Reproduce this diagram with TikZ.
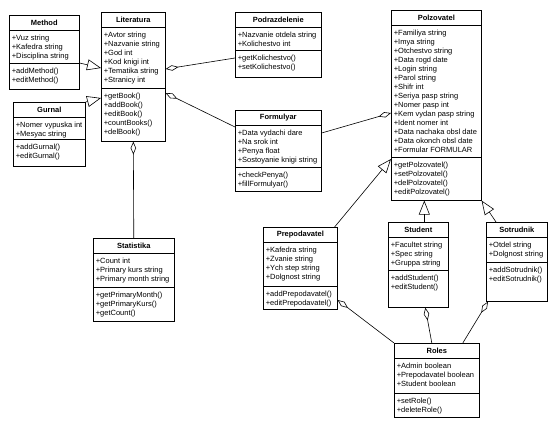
\documentclass[tikz,border=0pt]{standalone}
\usepackage{fontspec}
\setmainfont{Liberation Sans}
\usetikzlibrary{arrows.meta}

% #1 name, #2 x, #3 y, #4 width, #5 height, #6 attribute part height,
% #7 title, #8 attributes, #9 operations
\newcommand{\umlclass}[9]{%
  \node[classbox, minimum width=#4pt, minimum height=#5pt] (#1) at (#2,#3) {};
  \node[classtitle] (#1-name) at ([yshift=-7.5pt]#1.north) {#7};
  \draw ([yshift=-15pt]#1.north west) -- ([yshift=-15pt]#1.north east);
  \node[members] (#1-attr) at ([yshift=-15pt]#1.north west) {#8};
  \draw ([yshift=-15pt-#6pt]#1.north west) -- ([yshift=-15pt-#6pt]#1.north east);
  \node[members] (#1-ops) at ([yshift=-15pt-#6pt]#1.north west) {#9};
}

\begin{document}
\begin{tikzpicture}[x=1pt,y=-1pt,line width=0.6pt,
    classbox/.style={draw, anchor=north west, inner sep=0pt},
    classtitle/.style={font=\fontsize{7.5}{9}\selectfont\bfseries, inner sep=0pt},
    members/.style={anchor=north west, align=left, inner xsep=2.5pt, inner ysep=4.3pt,
      font=\fontsize{7.5}{9}\selectfont},
    inherit/.style={-{Triangle[open, length=14pt, width=11pt]}},
    aggr/.style={{Diamond[open, length=13pt, width=5.5pt]}-}]
  \useasboundingbox (0,0) rectangle (555,442);

  \umlclass{meth}{9}{15}{70}{74}{33}{Method}
    {+Vuz string\\+Kafedra string\\+Disciplina string}
    {+addMethod()\\+editMethod()}
  \umlclass{lit}{101}{12}{64}{129}{61}{Literatura}
    {+Avtor string\\+Nazvanie string\\+God int\\+Kod knigi int\\+Tematika string\\+Stranicy int}
    {+getBook()\\+addBook()\\+editBook()\\+countBooks()\\+delBook()}
  \umlclass{gurn}{13}{102}{72}{64}{22}{Gurnal}
    {+Nomer vypuska int\\+Mesyac string}
    {+addGurnal()\\+editGurnal()}
  \umlclass{stat}{93}{238}{81}{83}{34}{Statistika}
    {+Count int\\+Primary kurs string\\+Primary month string}
    {+getPrimaryMonth()\\+getPrimaryKurs()\\+getCount()}
  \umlclass{pod}{235}{12}{86}{65}{23}{Podrazdelenie}
    {+Nazvanie otdela string\\+Kolichestvo int}
    {+getKolichestvo()\\+setKolichestvo()}
  \umlclass{form}{235}{110}{86}{81}{42}{Formulyar}
    {+Data vydachi dare\\+Na srok int\\+Penya float\\+Sostoyanie knigi string}
    {+checkPenya()\\+fillFormulyar()}
  \umlclass{pol}{391}{10}{90}{190}{132}{Polzovatel}
    {+Familiya string\\+Imya string\\+Otchestvo string\\+Data rogd date\\+Login string\\+Parol string\\+Shifr int\\+Seriya pasp string\\+Nomer pasp int\\+Kem vydan pasp string\\+Ident nomer int\\+Data nachaka obsl date\\+Data okonch obsl date\\+Formular FORMULAR}
    {+getPolzovatel()\\+setPolzovatel()\\+delPolzovatel()\\+editPolzovatel()}
  \umlclass{prep}{263}{227}{74}{82}{44}{Prepodavatel}
    {+Kafedra string\\+Zvanie string\\+Ych step string\\+Dolgnost string}
    {+addPrepodavatel()\\+editPrepodavatel()}
  \umlclass{stud}{388}{222}{60}{85}{33}{Student}
    {+Facultet string\\+Spec string\\+Gruppa string}
    {+addStudent()\\+editStudent()}
  \umlclass{sot}{486}{222}{61}{79}{25}{Sotrudnik}
    {+Otdel string\\+Dolgnost string}
    {+addSotrudnik()\\+editSotrudnik()}
  \umlclass{roles}{394}{343}{85}{74}{35}{Roles}
    {+Admin boolean\\+Prepodavatel boolean\\+Student boolean}
    {+setRole()\\+deleteRole()}

  % generalization
  \draw[inherit] ([yshift=-48pt]meth.north east) -- ([yshift=-56pt]lit.north west);
  \draw[inherit] (gurn.north east) -- ([yshift=-86pt]lit.north west);
  \draw[inherit] ([xshift=-3pt]prep.north east) -- ([yshift=-149pt]pol.north west);
  \draw[inherit] ([xshift=6pt]stud.north) -- ([xshift=6pt]stud.north |- pol.south);
  \draw[inherit] ([xshift=10pt]sot.north west) -- (pol.south east);

  % aggregation
  \draw[aggr] (lit.south) -- (stat.north);
  \draw[aggr] ([yshift=-57pt]lit.north east) -- ([yshift=-46pt]pod.north west);
  \draw[aggr] ([yshift=-81pt]lit.north east) -- ([yshift=-17pt]form.north west);
  \draw[aggr] ([yshift=-103pt]pol.north west) -- ([yshift=-23pt]form.north east);
  \draw[aggr] ([yshift=-73pt]prep.north east) -- (roles.north west);
  \draw[aggr] ([xshift=7pt]stud.south) -- ([xshift=-5pt]roles.north);
  \draw[aggr] ([xshift=2pt]sot.south west) -- ([xshift=26pt]roles.north);
\end{tikzpicture}
\end{document}
